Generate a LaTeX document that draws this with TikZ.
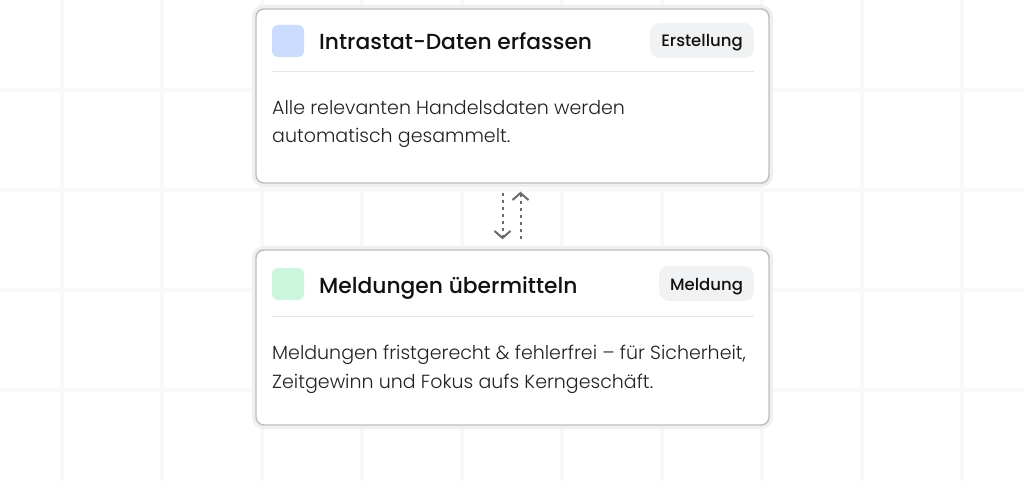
\documentclass[tikz,border=0pt]{standalone}
\usepackage{fontspec}
\setmainfont{Poppins Light}
\newfontfamily\medfont{Poppins Medium}
\usetikzlibrary{arrows.meta}
\definecolor{gridc}{HTML}{F8F8F8}
\definecolor{halo}{HTML}{EFEFEF}
\definecolor{cardborder}{HTML}{BDBDBD}
\definecolor{sepc}{HTML}{E5E7EB}
\definecolor{badgec}{HTML}{F1F2F4}
\definecolor{bluesq}{HTML}{CCDCFE}
\definecolor{greensq}{HTML}{CCF7DE}
\definecolor{titlec}{HTML}{111111}
\definecolor{bodyc}{HTML}{222222}
\definecolor{arrowc}{HTML}{6B6B6B}
\tikzset{
  card/.style={draw=cardborder, line width=1.4pt, fill=white, rounded corners=8pt,
    minimum width=513pt, inner sep=0pt,
    preaction={draw=halo, line width=8pt}},
  sq/.style={rounded corners=6pt, minimum width=32pt, minimum height=32pt, inner sep=0pt},
  badge/.style={fill=badgec, rounded corners=10pt, minimum height=35pt, inner sep=0pt},
  badgetext/.style={anchor=base, inner sep=0pt, text=titlec, font=\medfont\fontsize{16.5}{20}\selectfont},
  titletext/.style={anchor=base west, inner sep=0pt, text=titlec, font=\medfont\fontsize{21.8}{26}\selectfont},
  bodytext/.style={anchor=base west, inner sep=0pt, text=bodyc, font=\fontsize{19}{28}\selectfont},
  sep/.style={draw=sepc, line width=1pt},
  flow/.style={draw=arrowc, line width=2pt, dash pattern=on 3.5pt off 3.5pt, -{Straight Barb[length=7pt,width=16pt]}}
}
\begin{document}
\begin{tikzpicture}[x=1pt,y=-1pt]
\useasboundingbox (0,0) rectangle (1024,481);
\fill[white] (0,0) rectangle (1024,481);
% grid
\foreach \gx in {62,162,...,962} \draw[gridc, line width=3.5pt] (\gx,0) -- (\gx,481);
\foreach \gy in {90,190,290,390} \draw[gridc, line width=3.5pt] (0,\gy) -- (1024,\gy);
% cards
\node[card, minimum height=174pt] (c1) at (512.5,96) {};
\node[card, minimum height=175pt] (c2) at (512.5,337.5) {};
% card 1 content
\node[sq, fill=bluesq] (s1) at (288,41) {};
\node[titletext] (t1) at (319,50) {Intrastat-Daten erfassen};
\node[badge, minimum width=104pt] (b1) at (702,40.5) {};
\node[badgetext] (bt1) at (702,47) {Erstellung};
\draw[sep] (272,72) -- (754,72);
\node[bodytext] (d1) at (272,115) {Alle relevanten Handelsdaten werden};
\node[bodytext] (d1b) at (272,143) {automatisch gesammelt.};
% card 2 content
\node[sq, fill=greensq] (s2) at (288,284) {};
\node[titletext] (t2) at (319,293) {Meldungen übermitteln};
\node[badge, minimum width=95pt] (b2) at (706.5,283.5) {};
\node[badgetext] (bt2) at (706.5,290) {Meldung};
\draw[sep] (272,316) -- (754,316);
\node[bodytext] (d2) at (272,359) {Meldungen fristgerecht \& fehlerfrei – für Sicherheit,};
\node[bodytext] (d2b) at (272,388) {Zeitgewinn und Fokus aufs Kerngeschäft.};
% arrows
\coordinate (a1s) at ([xshift=-10pt,yshift=-9pt]c1.south);
\coordinate (a1e) at ([xshift=-10pt,yshift=10pt]c2.north);
\coordinate (a2s) at ([xshift=8pt,yshift=10pt]c2.north);
\coordinate (a2e) at ([xshift=8pt,yshift=-8pt]c1.south);
\draw[flow] (a1s) -- (a1e);
\draw[flow] (a2s) -- (a2e);
\end{tikzpicture}
\end{document}
